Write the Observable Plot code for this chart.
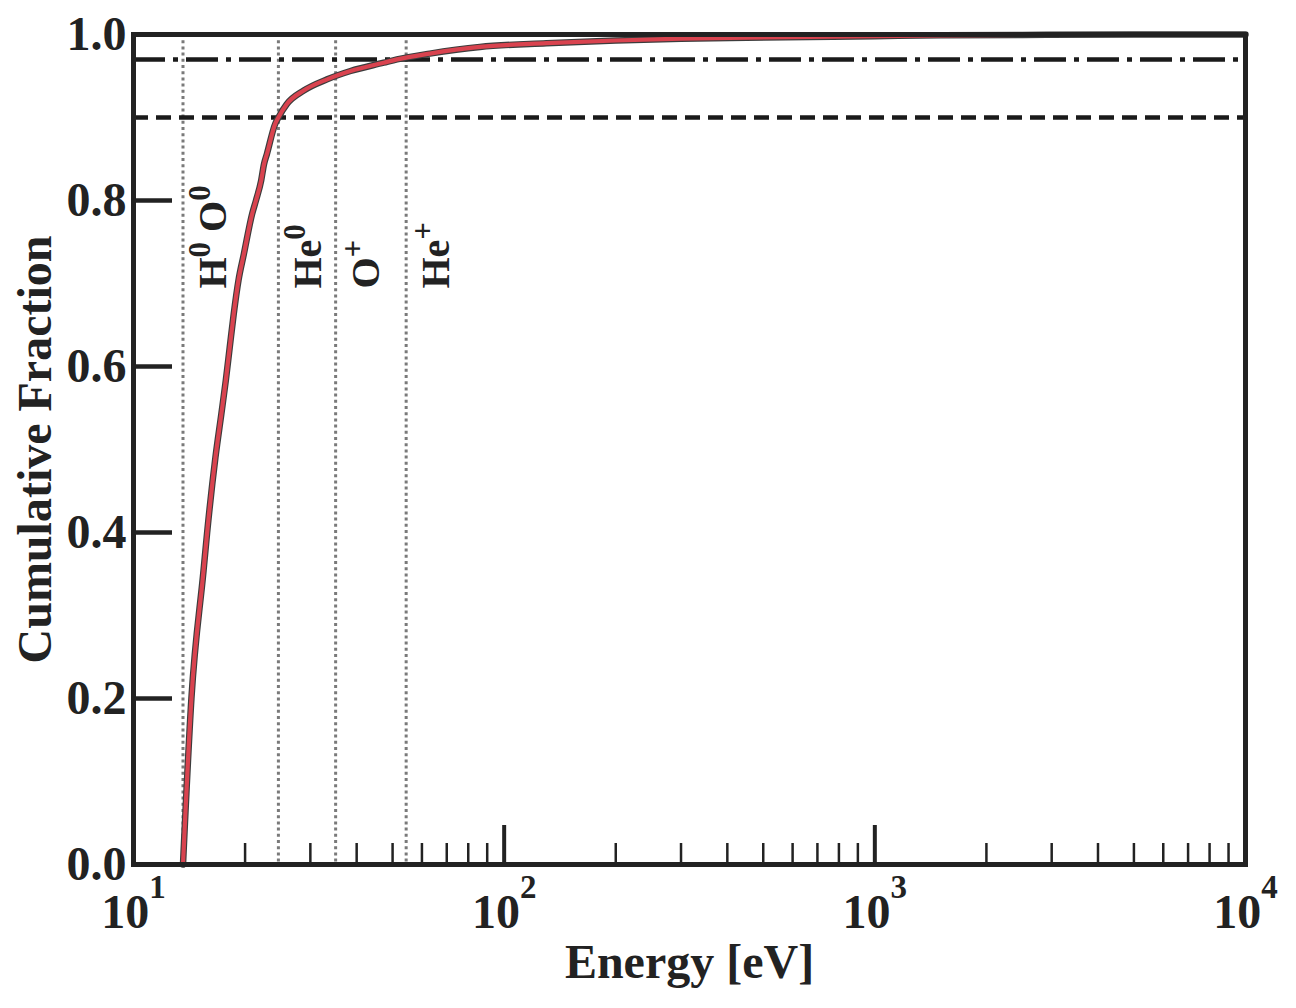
<!DOCTYPE html>
<html>
<head>
<meta charset="utf-8">
<script src="https://cdn.jsdelivr.net/npm/d3@7"></script>
<script src="https://cdn.jsdelivr.net/npm/@observablehq/plot@0.6"></script>
<style>
  html, body { margin: 0; padding: 0; background: #fff; }
  svg text { white-space: pre; }
</style>
</head>
<body>
<div id="chart"></div>
<script>
// ---- data ----
const energy = [13.6, 14.33, 15.45, 15.8, 16.63, 17.26, 17.74, 18.18, 18.64, 19.2, 19.84, 20.9, 21.4, 22.1, 22.5, 22.9, 24.1, 24.6, 25.9, 28.8, 33.3, 38.5, 47.3, 51.4, 63, 86, 130, 200, 300, 450, 1000, 1500, 2500, 5000, 10000];
const cumFraction = [0, 0.2, 0.354, 0.4, 0.49, 0.543, 0.583, 0.623, 0.6635, 0.704, 0.735, 0.784, 0.8, 0.824, 0.844, 0.856, 0.892, 0.9, 0.916, 0.9325, 0.946, 0.956, 0.966, 0.97, 0.977, 0.985, 0.9895, 0.9928, 0.995, 0.9962, 0.998, 0.999, 0.9995, 1, 1];

const ionEnergies = [13.6, 24.6, 35.1, 54.4];
const ionLabels = ["H^0 O^0", "He^0", "O^+", "He^+"];

const thresholds = [0.9, 0.97];

const yTicks = [0, 0.2, 0.4, 0.6, 0.8, 1.0];
const yTickLabels = ["0.0", "0.2", "0.4", "0.6", "0.8", "1.0"];
const xMajorTicks = [10, 100, 1000, 10000];
const xTickLabels = ["10^1", "10^2", "10^3", "10^4"];
const xMinorTicks = [20, 30, 40, 50, 60, 70, 80, 90, 200, 300, 400, 500, 600, 700, 800, 900, 2000, 3000, 4000, 5000, 6000, 7000, 8000, 9000];

const curve = energy.map((e, i) => ({e, f: cumFraction[i]}));

// ---- layout ----
const W = 1296, H = 1008;
const mL = 133, mR = 51, mT = 34, mB = 144;
const pw = W - mL - mR, ph = H - mT - mB;
const ink = "#222";

const chart = Plot.plot({
  width: W, height: H,
  marginLeft: mL, marginRight: mR, marginTop: mT, marginBottom: mB,
  style: {fontFamily: "'Liberation Serif', 'DejaVu Serif', serif", fontWeight: "bold", background: "#fff", color: ink},
  x: {type: "log", domain: [10, 10000], axis: null},
  y: {domain: [0, 1], axis: null},
  marks: [
    Plot.ruleX(ionEnergies, {x: d => d, stroke: "#7a7a7a", strokeWidth: 3, strokeDasharray: "3,3.2"}),
    Plot.ruleY([thresholds[1]], {y: d => d, stroke: "#1a1a1a", strokeWidth: 4.5, strokeDasharray: "32,8,5,8"}),
    Plot.ruleY([thresholds[0]], {y: d => d, stroke: "#1a1a1a", strokeWidth: 4.5, strokeDasharray: "15,8"}),
    Plot.line(curve, {x: "e", y: "f", stroke: "#3c3c3c", strokeWidth: 6.5, curve: "monotone-x"}),
    Plot.line(curve, {x: "e", y: "f", stroke: "#d9434f", strokeWidth: 4.2, curve: "monotone-x"}),
    Plot.text(ionEnergies, {x: d => d, text: (d, i) => ionLabels[i], frameAnchor: "top", dy: 254, dx: 43,
      rotate: -90, textAnchor: "start", lineAnchor: "bottom", fontSize: 40, fill: ink}),
    Plot.frame({stroke: ink, strokeWidth: 5}),
    Plot.ruleY(yTicks, {y: d => d, stroke: ink, strokeWidth: 4.5, insetRight: pw - 39}),
    Plot.ruleX(xMajorTicks, {x: d => d, stroke: ink, strokeWidth: 4, insetTop: ph - 39}),
    Plot.ruleX(xMinorTicks, {x: d => d, stroke: ink, strokeWidth: 2.5, insetTop: ph - 21}),
    Plot.text(yTicks, {y: d => d, text: (d, i) => yTickLabels[i], frameAnchor: "left", dx: -7,
      textAnchor: "end", fontSize: 48, fill: ink}),
    Plot.text(xMajorTicks, {x: d => d, text: (d, i) => xTickLabels[i], frameAnchor: "bottom", dy: 63,
      textAnchor: "middle", lineAnchor: "bottom", fontSize: 48, fill: ink}),
    Plot.text(["Energy [eV]"], {text: d => d, frameAnchor: "bottom", dy: 113, textAnchor: "middle", lineAnchor: "bottom", fontSize: 48, fill: ink}),
    Plot.text(["Cumulative Fraction"], {text: d => d, frameAnchor: "left", dx: -83, rotate: -90, textAnchor: "middle", lineAnchor: "bottom", fontSize: 48, fill: ink})
  ]
});

// superscripts: "^x" -> raised smaller tspan
function supify(el, supSize, shift) {
  const s = el.textContent;
  const parts = s.split(/\^(.)/);
  while (el.firstChild) el.removeChild(el.firstChild);
  let raised = false;
  parts.forEach((p, i) => {
    if (!p) return;
    const isSup = i % 2 === 1;
    const ts = document.createElementNS("http://www.w3.org/2000/svg", "tspan");
    ts.textContent = p;
    if (isSup) {
      ts.style.fontSize = supSize + "px";
      if (!raised) { ts.setAttribute("dy", -shift); raised = true; }
    } else if (raised) {
      ts.setAttribute("dy", shift); raised = false;
    }
    el.appendChild(ts);
  });
}
chart.querySelectorAll("text").forEach(el => {
  if (!el.textContent.includes("^")) return;
  const rotated = (el.getAttribute("transform") || "").includes("rotate");
  if (rotated) supify(el, 31, 16);
  else supify(el, 33, 30);
});

document.getElementById("chart").appendChild(chart);
</script>
</body>
</html>
